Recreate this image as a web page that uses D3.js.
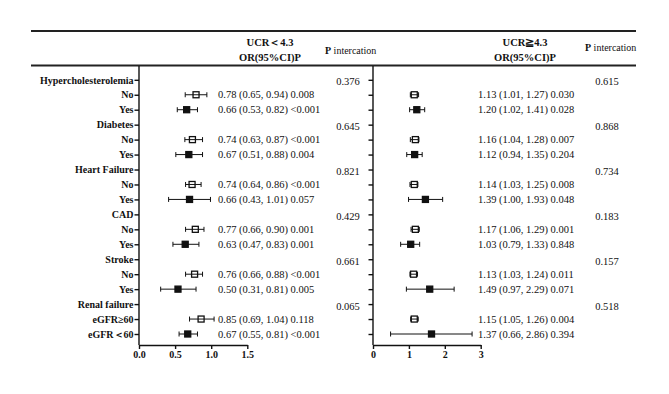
<!DOCTYPE html>
<html>
<head>
<meta charset="utf-8">
<script src="https://cdn.jsdelivr.net/npm/d3@7"></script>
<style>
  body { margin: 0; background: #fff; }
  svg text { font-family: "Liberation Serif", "Times New Roman", Times, serif; fill: #111; }
  .axis text { font-weight: bold; font-size: 10px; }
  .axis path, .axis line { stroke: #111; stroke-width: 1.4; }
</style>
</head>
<body>
<div id="chart"></div>
<script>
const width = 669, height = 394;
const serif = "'Liberation Serif', 'Times New Roman', Times, serif";

// subgroup rows
const groups = ["Hypercholesterolemia", "Diabetes", "Heart Failure", "CAD", "Stroke", "Renal failure"];
const subgroups = [["No", "Yes"], ["No", "Yes"], ["No", "Yes"], ["No", "Yes"], ["No", "Yes"], ["eGFR≥60", "eGFR＜60"]];

// UCR < 4.3 : plotted estimate and whiskers
const orLeft = [0.79, 0.66, 0.74, 0.69, 0.735, 0.70, 0.78, 0.64, 0.77, 0.54, 0.86, 0.675];
const loLeft = [0.64, 0.53, 0.635, 0.51, 0.645, 0.41, 0.645, 0.47, 0.645, 0.30, 0.70, 0.555];
const hiLeft = [0.94, 0.81, 0.88, 0.88, 0.86, 0.99, 0.90, 0.83, 0.88, 0.79, 1.04, 0.81];
const textLeft = ["0.78 (0.65, 0.94) 0.008", "0.66 (0.53, 0.82) <0.001", "0.74 (0.63, 0.87) <0.001",
  "0.67 (0.51, 0.88) 0.004", "0.74 (0.64, 0.86) <0.001", "0.66 (0.43, 1.01) 0.057",
  "0.77 (0.66, 0.90) 0.001", "0.63 (0.47, 0.83) 0.001", "0.76 (0.66, 0.88) <0.001",
  "0.50 (0.31, 0.81) 0.005", "0.85 (0.69, 1.04) 0.118", "0.67 (0.55, 0.81) <0.001"];
const pLeft = ["0.376", "0.645", "0.821", "0.429", "0.661", "0.065"];

// UCR >= 4.3
const orRight = [1.15, 1.22, 1.18, 1.16, 1.15, 1.46, 1.18, 1.05, 1.13, 1.58, 1.15, 1.63];
const loRight = [1.04, 1.02, 1.04, 0.94, 1.03, 0.99, 1.06, 0.77, 1.03, 0.93, 1.05, 0.49];
const hiRight = [1.27, 1.44, 1.28, 1.37, 1.25, 1.94, 1.29, 1.30, 1.24, 2.26, 1.26, 2.76];
const textRight = ["1.13 (1.01, 1.27) 0.030", "1.20 (1.02, 1.41) 0.028", "1.16 (1.04, 1.28) 0.007",
  "1.12 (0.94, 1.35) 0.204", "1.14 (1.03, 1.25) 0.008", "1.39 (1.00, 1.93) 0.048",
  "1.17 (1.06, 1.29) 0.001", "1.03 (0.79, 1.33) 0.848", "1.13 (1.03, 1.24) 0.011",
  "1.49 (0.97, 2.29) 0.071", "1.15 (1.05, 1.26) 0.004", "1.37 (0.66, 2.86) 0.394"];
const pRight = ["0.615", "0.868", "0.734", "0.183", "0.157", "0.518"];

const ticksLeft = [0, 0.5, 1.0, 1.5];
const ticksRight = [0, 1, 2, 3];

// build row list: group header then its two subgroups
const rows = [];
const est = [];
groups.forEach((g, gi) => {
  rows.push({label: g, head: true, g: gi});
  subgroups[gi].forEach((s, si) => {
    const r = {label: s, head: false, g: gi, k: gi * 2 + si, filled: si === 1};
    rows.push(r);
    est.push(r);
  });
});

const svg = d3.select("#chart").append("svg")
  .attr("width", width).attr("height", height)
  .attr("font-family", serif);

const axisTop = 66, axisBottom = 345;
const y = d3.scalePoint().domain(d3.range(rows.length)).range([79.8, 334]);

const xL = d3.scaleLinear().domain([0, 1.5]).range([139, 247.3]);
const xR = d3.scaleLinear().domain([0, 3]).range([373, 480.7]);

// header rules
svg.append("line").attr("x1", 31).attr("x2", 636).attr("y1", 31).attr("y2", 31)
  .attr("stroke", "#222").attr("stroke-width", 1.8);
svg.append("line").attr("x1", 31).attr("x2", 636).attr("y1", 65.5).attr("y2", 65.5)
  .attr("stroke", "#222").attr("stroke-width", 1.8);

// header text
const hdr = svg.append("g").attr("font-weight", "bold").attr("font-size", "10.5px").attr("text-anchor", "middle");
hdr.append("text").attr("x", 270).attr("y", 46).text("UCR＜4.3");
hdr.append("text").attr("x", 270).attr("y", 61).text("OR(95%CI)P");
hdr.append("text").attr("x", 525).attr("y", 46).text("UCR≧4.3");
hdr.append("text").attr("x", 525).attr("y", 61).text("OR(95%CI)P");

function pHeader(x, yy) {
  const t = svg.append("text").attr("x", x).attr("y", yy).attr("font-size", "10px");
  t.append("tspan").attr("font-weight", "bold").text("P");
  t.append("tspan").text(" intercation");
}
pHeader(325, 54);
pHeader(585, 51);

// left axis with labels
const gyL = svg.append("g").attr("class", "axis")
  .attr("transform", `translate(${xL(0)},0)`)
  .call(d3.axisLeft(y).tickSize(4.5).tickSizeOuter(0).tickPadding(1).tickFormat(i => rows[i].label))
  .attr("font-family", serif);
gyL.select(".domain").remove();
gyL.append("line").attr("y1", axisTop).attr("y2", axisBottom);

// right axis without labels
const gyR = svg.append("g").attr("class", "axis")
  .attr("transform", `translate(${xR(0)},0)`)
  .call(d3.axisLeft(y).tickSize(4.5).tickSizeOuter(0).tickFormat(""));
gyR.select(".domain").remove();
gyR.append("line").attr("y1", axisTop).attr("y2", axisBottom);

// bottom axes
svg.append("g").attr("class", "axis")
  .attr("transform", `translate(0,${axisBottom})`)
  .call(d3.axisBottom(xL).tickValues(ticksLeft).tickFormat(d3.format(".1f")).tickSize(4).tickSizeOuter(0).tickPadding(2))
  .attr("font-family", serif);
svg.append("g").attr("class", "axis")
  .attr("transform", `translate(0,${axisBottom})`)
  .call(d3.axisBottom(xR).tickValues(ticksRight).tickFormat(d3.format("d")).tickSize(4).tickSizeOuter(0).tickPadding(2))
  .attr("font-family", serif);

// forest marks
function forest(x, or, lo, hi, txt, txtX) {
  const g = svg.append("g");
  const item = g.selectAll("g.est").data(est).enter().append("g").attr("class", "est")
    .attr("transform", d => `translate(0,${y(rows.indexOf(d))})`);
  item.append("line")
    .attr("x1", d => x(lo[d.k])).attr("x2", d => x(hi[d.k]))
    .attr("stroke", "#111").attr("stroke-width", 1);
  item.append("line").attr("x1", d => x(lo[d.k])).attr("x2", d => x(lo[d.k]))
    .attr("y1", -2.5).attr("y2", 2.5).attr("stroke", "#111").attr("stroke-width", 1);
  item.append("line").attr("x1", d => x(hi[d.k])).attr("x2", d => x(hi[d.k]))
    .attr("y1", -2.5).attr("y2", 2.5).attr("stroke", "#111").attr("stroke-width", 1);
  item.append("rect")
    .attr("x", d => x(or[d.k]) - 3).attr("y", -3)
    .attr("width", 6).attr("height", 6)
    .attr("fill", d => d.filled ? "#111" : "none")
    .attr("stroke", "#111").attr("stroke-width", 1.3);
  item.append("text")
    .attr("x", txtX).attr("dy", "0.35em")
    .attr("font-size", "10.5px")
    .text(d => txt[d.k]);
}
forest(xL, orLeft, loLeft, hiLeft, textLeft, 218);
forest(xR, orRight, loRight, hiRight, textRight, 478);

// interaction p values beside group headers
const heads = rows.map((r, i) => ({r, i})).filter(d => d.r.head);
svg.append("g").selectAll("text").data(heads).enter().append("text")
  .attr("x", 348).attr("y", d => y(d.i) + 2).attr("dy", "0.35em")
  .attr("text-anchor", "middle").attr("font-size", "10.5px")
  .text(d => pLeft[d.r.g]);
svg.append("g").selectAll("text").data(heads).enter().append("text")
  .attr("x", 607).attr("y", d => y(d.i) + 2).attr("dy", "0.35em")
  .attr("text-anchor", "middle").attr("font-size", "10.5px")
  .text(d => pRight[d.r.g]);
</script>
</body>
</html>
